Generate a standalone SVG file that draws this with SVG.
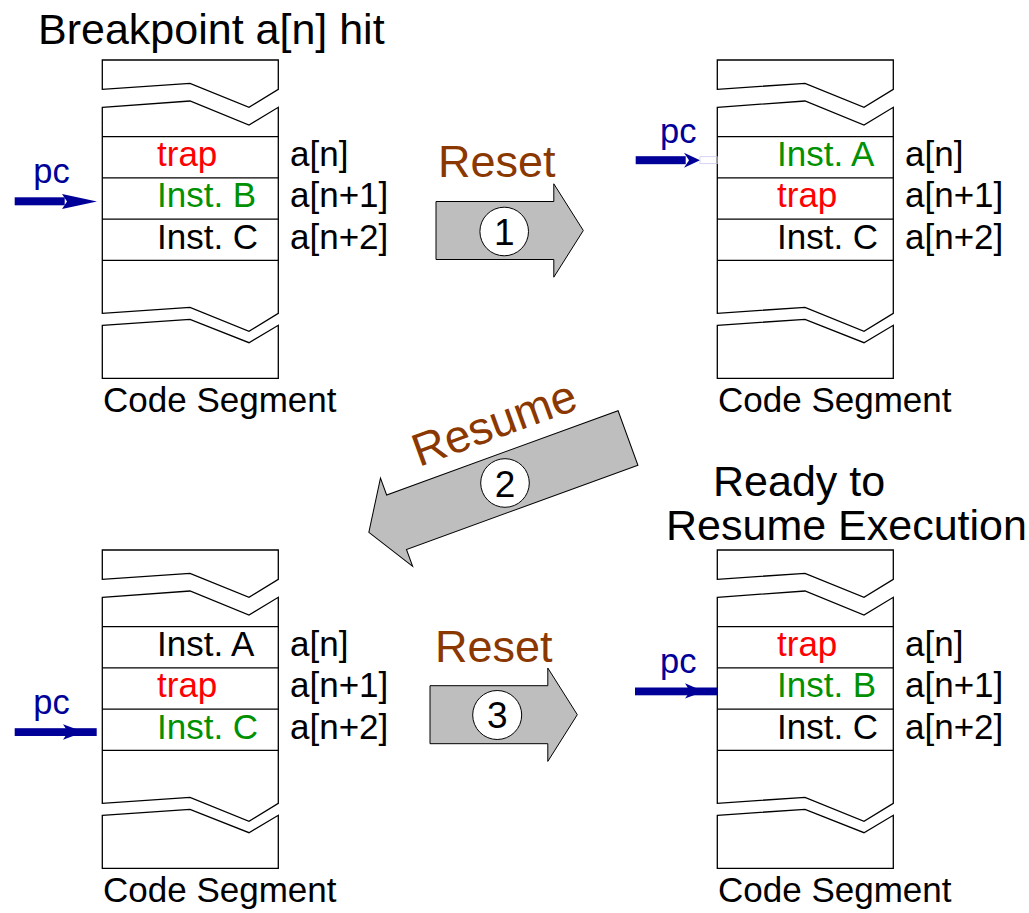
<svg xmlns="http://www.w3.org/2000/svg" xmlns:xlink="http://www.w3.org/1999/xlink" width="1029" height="913" viewBox="0 0 1029 913">
  <style>
    text { font-family: "Liberation Sans", Arial, Helvetica, sans-serif; }
    .big { font-size: 43px; fill: #000; }
    .cell { font-size: 35px; }
    .lbl { font-size: 35px; fill: #000; }
    .blk { fill: #000; }
    .red { fill: #ff0000; }
    .grn { fill: #009000; }
    .act { font-size: 45px; fill: #8a3800; }
    .num { font-size: 37px; fill: #000; text-anchor: middle; }
    .seg { fill: #fff; stroke: #000; stroke-width: 1.3; stroke-linejoin: miter; }
    .row { stroke: #000; stroke-width: 1.3; }
    .step { fill: #bebebe; stroke: #000; stroke-width: 1; stroke-linejoin: miter; }
    .badge { fill: #fff; stroke: #000; stroke-width: 1; }
    .pc { fill: #000099; }
    .pctext { font-size: 34.5px; fill: #000099; }
  </style>
  <defs>
    <!-- broken memory column: top stub, body with instruction rows, bottom stub -->
    <g id="column">
      <polygon class="seg" points="0,0 176,0 176,29.3 146.7,47.3 87.7,23.3 0,29.3"/>
      <polygon class="seg" points="0,47.3 87.7,41 146.7,65 176,47.3 176,253.3 146.7,271.3 87.7,247.3 0,253.3"/>
      <polygon class="seg" points="0,265.3 87.7,259.3 146.7,282.7 176,265.3 176,318.3 0,318.3"/>
      <line class="row" x1="0" y1="76.7" x2="176" y2="76.7"/>
      <line class="row" x1="0" y1="117.8" x2="176" y2="117.8"/>
      <line class="row" x1="0" y1="159.2" x2="176" y2="159.2"/>
      <line class="row" x1="0" y1="200.3" x2="176" y2="200.3"/>
      <text class="lbl" x="187.7" y="105.5">a[n]</text>
      <text class="lbl" x="187.7" y="147">a[n+1]</text>
      <text class="lbl" x="187.7" y="188.5">a[n+2]</text>
      <text class="lbl" x="0.7" y="351.7">Code Segment</text>
    </g>
    <!-- block arrow, tail at origin, pointing along +x -->
    <polygon id="stepShort" class="step" points="0,-29 117.8,-29 117.8,-46.7 147.3,0 117.8,46.7 117.8,29 0,29"/>
    <polygon id="stepLong" class="step" points="0,-29 246.3,-29 246.3,-47 275.8,0 246.3,47 246.3,29 0,29"/>
  </defs>

  <!-- captions -->
  <text class="big" x="38" y="44">Breakpoint a[n] hit</text>
  <text class="big" x="713" y="496">Ready to</text>
  <text class="big" x="666" y="540">Resume Execution</text>

  <!-- code segment: breakpoint hit -->
  <g id="seg-hit">
    <use xlink:href="#column" href="#column" transform="translate(102.3,60)"/>
    <text class="cell red" x="157" y="165.5">trap</text>
    <text class="cell grn" x="157" y="207">Inst. B</text>
    <text class="cell blk" x="157" y="248.5">Inst. C</text>
  </g>

  <!-- code segment: after reset -->
  <g id="seg-reset">
    <use xlink:href="#column" href="#column" transform="translate(717.3,60)"/>
    <text class="cell grn" x="777" y="165.5">Inst. A</text>
    <text class="cell red" x="777" y="207">trap</text>
    <text class="cell blk" x="777" y="248.5">Inst. C</text>
  </g>

  <!-- code segment: after resume -->
  <g id="seg-resume">
    <use xlink:href="#column" href="#column" transform="translate(102.3,550)"/>
    <text class="cell blk" x="157" y="655.5">Inst. A</text>
    <text class="cell red" x="157" y="697">trap</text>
    <text class="cell grn" x="157" y="738.5">Inst. C</text>
  </g>

  <!-- code segment: ready to resume -->
  <g id="seg-ready">
    <use xlink:href="#column" href="#column" transform="translate(717.3,550)"/>
    <text class="cell red" x="777" y="655.5">trap</text>
    <text class="cell grn" x="777" y="697">Inst. B</text>
    <text class="cell blk" x="777" y="738.5">Inst. C</text>
  </g>

  <!-- program counter pointers -->
  <g id="pc-markers">
    <g id="pc-hit">
      <text class="pctext" x="33.3" y="183.3">pc</text>
      <rect class="pc" x="14.7" y="197.3" width="50" height="8"/>
      <polygon class="pc" points="62,194 97,201.5 62,209 67,201.5"/>
    </g>
    <g id="pc-reset">
      <text class="pctext" x="660" y="142.7">pc</text>
      <rect class="pc" x="635.7" y="156.2" width="50" height="8"/>
      <polygon class="pc" points="684,152.7 700,160.2 684,167.7 689,160.2"/>
      <rect x="700" y="156.7" width="17.3" height="7" fill="none" stroke="#c4c4ee" stroke-width="0.7"/>
    </g>
    <g id="pc-resume">
      <text class="pctext" x="33.3" y="714.3">pc</text>
      <rect class="pc" x="14.7" y="728.2" width="82" height="7.8"/>
      <polygon class="pc" points="63,724.3 84,732.1 63,739.8 68,732.1"/>
    </g>
    <g id="pc-ready">
      <text class="pctext" x="660" y="673.3">pc</text>
      <rect class="pc" x="635" y="687.5" width="82.3" height="7.8"/>
      <polygon class="pc" points="685,683.3 704,691.4 685,698.5 690,691.4"/>
    </g>
  </g>

  <!-- transition arrows between the states -->
  <g id="transitions">
    <g id="step1">
      <use xlink:href="#stepShort" href="#stepShort" transform="translate(436,230.5)"/>
      <circle class="badge" cx="504.2" cy="231.5" r="24.3"/>
      <text class="num" x="504.2" y="245">1</text>
      <text class="act" x="438" y="176.7">Reset</text>
    </g>
    <g id="step2">
      <use xlink:href="#stepLong" href="#stepLong" transform="translate(628,438) rotate(160)"/>
      <circle class="badge" cx="505" cy="483" r="24.3"/>
      <text class="num" x="505" y="496.5">2</text>
      <text class="act" transform="translate(419,467) rotate(-20)" x="0" y="0" style="font-size:46px">Resume</text>
    </g>
    <g id="step3">
      <use xlink:href="#stepShort" href="#stepShort" transform="translate(430,714.7)"/>
      <circle class="badge" cx="497.2" cy="715" r="24.5"/>
      <text class="num" x="497.2" y="728">3</text>
      <text class="act" x="435" y="661.7">Reset</text>
    </g>
  </g>
</svg>
